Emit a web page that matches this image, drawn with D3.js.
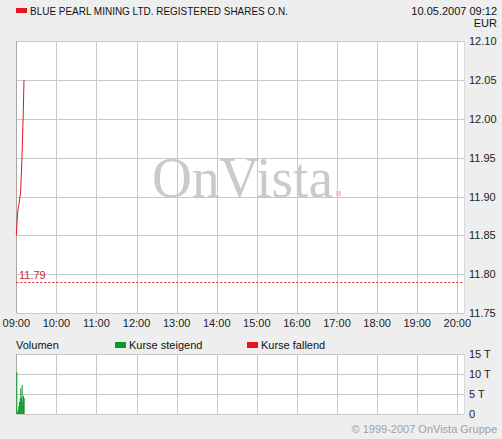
<!DOCTYPE html>
<html lang="de">
  <head>
    <meta charset="UTF-8" />
    <title>Blue Pearl Mining</title>
    <script src="https://cdn.jsdelivr.net/npm/d3@7"></script>
    <style>
      body { margin: 0; background: #eeeeee; }
      svg { display: block; font-family: "Liberation Sans", Arial, sans-serif; }
    </style>
  </head>
  <body>
    <div id="chart"></div>
    <script>
      // Daten
      const title = "BLUE PEARL MINING LTD. REGISTERED SHARES O.N.";
      const stamp = "10.05.2007 09:12";
      const hourTicks = ["09:00", "10:00", "11:00", "12:00", "13:00", "14:00",
        "15:00", "16:00", "17:00", "18:00", "19:00", "20:00"];
      const priceTicks = [11.75, 11.80, 11.85, 11.90, 11.95, 12.00, 12.05, 12.10];
      const volTicks = [0, 5, 10, 15];
      // Minuten nach 09:00
      const priceMinutes = [0, 2, 4.5, 6.5, 8.5, 10.5, 11.5];
      const priceValues = [11.85, 11.88, 11.893, 11.907, 11.95, 12.01, 12.05];
      const volMinutes = [0, 1, 2, 3, 4, 5, 6, 7, 8, 9, 10, 11];
      const volValues = [10.5, 0.5, 1, 2, 3, 4, 6.5, 4, 7.3, 3, 4.5, 4];
      const refPrice = 11.79;

      const width = 502;
      const height = 439;
      const left = 16.3, right = 464;

      const svg = d3.select("#chart").append("svg")
        .attr("width", width).attr("height", height);

      const x = d3.scaleLinear().domain([0, 660]).range([left, 457.3]);
      const y = d3.scaleLinear().domain([11.75, 12.10]).range([313, 41.3]);
      const yv = d3.scaleLinear().domain([0, 15]).range([414, 354.3]);

      // Kopfzeile
      svg.append("rect").attr("x", 16).attr("y", 8).attr("width", 11).attr("height", 5).attr("fill", "#e8141c");
      svg.append("text").attr("x", 30).attr("y", 15).attr("font-size", 11).attr("fill", "#111")
        .attr("textLength", 258).attr("lengthAdjust", "spacingAndGlyphs").text(title);
      svg.append("text").attr("x", 497).attr("y", 15).attr("font-size", 11).attr("text-anchor", "end").attr("fill", "#111").text(stamp);
      svg.append("text").attr("x", 497).attr("y", 27).attr("font-size", 11).attr("text-anchor", "end").attr("fill", "#111").text("EUR");

      // Kurs-Panel
      svg.append("rect").attr("x", left).attr("y", 41.3).attr("width", right - left).attr("height", 313 - 41.3).attr("fill", "#fff");

      svg.append("g").selectAll("line").data(priceTicks).enter().append("line")
        .attr("x1", left).attr("x2", right)
        .attr("y1", d => Math.round(y(d)) + 0.5).attr("y2", d => Math.round(y(d)) + 0.5)
        .attr("stroke", "#c8c8c8");
      svg.append("g").selectAll("line").data(hourTicks).enter().append("line")
        .attr("x1", (d, i) => Math.round(x(i * 60)) + 0.5).attr("x2", (d, i) => Math.round(x(i * 60)) + 0.5)
        .attr("y1", 41.3).attr("y2", 313)
        .attr("stroke", "#c8c8c8");
      svg.append("line").attr("x1", right + 0.5).attr("x2", right + 0.5).attr("y1", 41).attr("y2", 313).attr("stroke", "#d8d8d8");
      svg.append("line").attr("x1", 16.5).attr("x2", 16.5).attr("y1", 41).attr("y2", 313).attr("stroke", "#a8a8a8");

      // Wasserzeichen
      svg.append("text").attr("x", 152).attr("y", 197)
        .attr("font-family", "'Liberation Serif', 'Times New Roman', serif")
        .attr("font-size", 56).attr("fill", "#cacaca")
        .attr("textLength", 181).attr("lengthAdjust", "spacingAndGlyphs")
        .text("OnVista");
      svg.append("rect").attr("x", 336).attr("y", 191).attr("width", 5).attr("height", 5).attr("fill", "#ecccd4");

      // Referenzlinie
      svg.append("line").attr("x1", left).attr("x2", right)
        .attr("y1", Math.round(y(refPrice)) + 0.5).attr("y2", Math.round(y(refPrice)) + 0.5)
        .attr("stroke", "#e02020").attr("stroke-dasharray", "2,2");
      svg.append("text").attr("x", 19).attr("y", y(refPrice) - 3).attr("font-size", 11).attr("fill", "#e02020").text("11.79");

      // Kurslinie
      const line = d3.line().x((d, i) => x(priceMinutes[i])).y(d => y(d));
      svg.append("path").datum(priceValues).attr("d", line)
        .attr("fill", "none").attr("stroke", "#e8141c").attr("stroke-width", 1);

      // Achsen
      svg.append("g").selectAll("text").data(priceTicks).enter().append("text")
        .attr("x", 469).attr("y", d => y(d) + 4).attr("font-size", 11).attr("fill", "#222")
        .text(d => d.toFixed(2));
      svg.append("g").selectAll("text").data(hourTicks).enter().append("text")
        .attr("x", (d, i) => x(i * 60)).attr("y", 327).attr("font-size", 11).attr("fill", "#222")
        .attr("text-anchor", "middle").text(d => d);

      // Volumen-Legende
      svg.append("text").attr("x", 16).attr("y", 349).attr("font-size", 11).attr("fill", "#111").text("Volumen");
      svg.append("rect").attr("x", 115).attr("y", 342).attr("width", 11).attr("height", 6).attr("fill", "#0a9a2a");
      svg.append("text").attr("x", 129).attr("y", 349).attr("font-size", 11).attr("fill", "#111").text("Kurse steigend");
      svg.append("rect").attr("x", 247).attr("y", 342).attr("width", 11).attr("height", 6).attr("fill", "#e8141c");
      svg.append("text").attr("x", 261).attr("y", 349).attr("font-size", 11).attr("fill", "#111").text("Kurse fallend");

      // Volumen-Panel
      svg.append("rect").attr("x", left).attr("y", 354).attr("width", right - left).attr("height", 60).attr("fill", "#fff");
      svg.append("g").selectAll("line").data(volTicks).enter().append("line")
        .attr("x1", left).attr("x2", right)
        .attr("y1", d => Math.round(yv(d)) + 0.5).attr("y2", d => Math.round(yv(d)) + 0.5)
        .attr("stroke", "#c8c8c8");
      svg.append("g").selectAll("line").data(hourTicks).enter().append("line")
        .attr("x1", (d, i) => Math.round(x(i * 60)) + 0.5).attr("x2", (d, i) => Math.round(x(i * 60)) + 0.5)
        .attr("y1", 354).attr("y2", 414)
        .attr("stroke", "#c8c8c8");
      svg.append("line").attr("x1", right + 0.5).attr("x2", right + 0.5).attr("y1", 354).attr("y2", 414).attr("stroke", "#d8d8d8");
      svg.append("line").attr("x1", 16.5).attr("x2", 16.5).attr("y1", 354).attr("y2", 414).attr("stroke", "#a8a8a8");

      svg.append("g").selectAll("rect").data(volValues).enter().append("rect")
        .attr("x", (d, i) => x(volMinutes[i]))
        .attr("y", d => yv(d))
        .attr("width", 1)
        .attr("height", d => yv(0) - yv(d))
        .attr("fill", "#0a9a2a");

      svg.append("g").selectAll("text").data(volTicks).enter().append("text")
        .attr("x", 469).attr("y", d => yv(d) + 4).attr("font-size", 11).attr("fill", "#222")
        .text(d => d === 0 ? "0" : d + " T");

      svg.append("text").attr("x", 497).attr("y", 433).attr("font-size", 11).attr("text-anchor", "end")
        .attr("fill", "#a0a0a0").text("© 1999-2007 OnVista Gruppe");
    </script>
  </body>
</html>
